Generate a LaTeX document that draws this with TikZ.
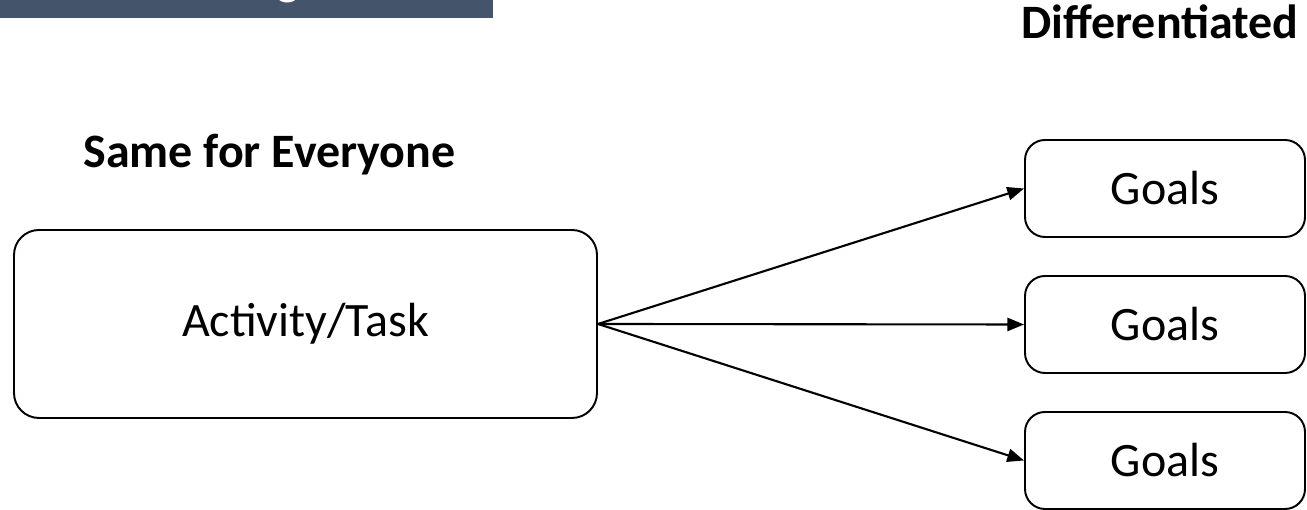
\documentclass[tikz,border=0pt]{standalone}
\usepackage{fontspec}
\setmainfont{Carlito}
\usepackage{xcolor}
\usepackage{tikz}
\usetikzlibrary{positioning, arrows.meta}
\definecolor{bannerblue}{RGB}{68,84,106}
\tikzstyle{task} = [rectangle, rounded corners=0.5cm, minimum width=11.66cm, minimum height=3.76cm, text centered, draw=black, line width=1.1pt, font=\fontsize{27.3}{32}\selectfont]
\tikzstyle{goal} = [rectangle, rounded corners=0.4cm, minimum width=5.6cm, minimum height=1.94cm, text centered, draw=black, line width=1.1pt, font=\fontsize{27.3}{32}\selectfont]
\tikzstyle{heading} = [anchor=base, inner sep=0pt, font=\bfseries\fontsize{27.3}{32}\selectfont]
\tikzstyle{arrow} = [line width=1.2pt, -{Triangle[length=9.5pt,width=7.5pt]}]

\begin{document}
\begin{tikzpicture}[node distance=2.72cm]
      \useasboundingbox (0,0) rectangle (26.14,10.2);
      \fill [bannerblue] (0,9.84) rectangle (9.86,10.2);
      \node (titlefrag) [anchor=south, inner sep=0pt, text=white, font=\fontsize{28}{32}\selectfont] at (5.77,10.13) {g};
      \node (same) [heading] at (5.39,6.84) {Same for Everyone};
      \node (diff) [heading] at (23.2,9.42) {Differentiated};
      \node (task) [task] at (6.11,3.72) {Activity/Task};
      \node (goal1) [goal] at (23.3,6.43) {Goals};
      \node (goal2) [goal, below of=goal1] {Goals};
      \node (goal3) [goal, below of=goal2] {Goals};
      \draw [arrow] (task.east) -- (goal1.west);
      \draw [arrow] (task.east) -- (goal2.west);
      \draw [arrow] (task.east) -- (goal3.west);
    \end{tikzpicture}
\end{document}
